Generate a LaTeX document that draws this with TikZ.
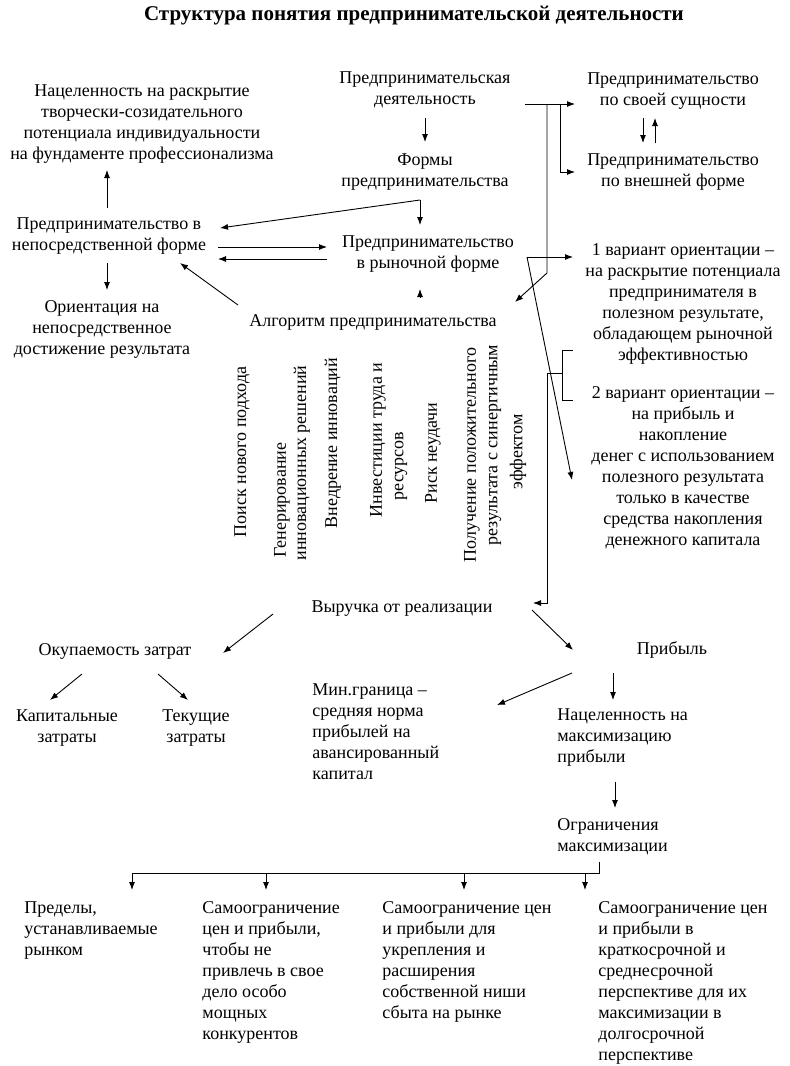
\documentclass[tikz,border=0pt]{standalone}
\usepackage{fontspec}
\setmainfont{Liberation Serif}
\usetikzlibrary{arrows.meta}
\usetikzlibrary{calc}

\begin{document}
\begin{tikzpicture}
	[
	x=1pt, y=-1pt,
	line width=0.9pt,
	> = {Latex[length=8pt,width=6pt]},
	lbl/.style = {inner sep=0pt, align=center, font=\fontsize{18}{21}\selectfont},
	lbll/.style = {lbl, align=left, anchor=west},
	vlbl/.style = {lbl, rotate=90}
	]
	\useasboundingbox[fill=white] (0,0) rectangle (790,1066);

	\node[lbl, font=\fontsize{21}{24}\selectfont\bfseries] (title) at (414,16) {Структура понятия предпринимательской деятельности};

	% upper block
	\node[lbl] (aim) at (142,124) {Нацеленность на раскрытие\\творчески-созидательного\\потенциала индивидуальности\\на фундаменте профессионализма};
	\node[lbl] (direct) at (109,236) {Предпринимательство в\\непосредственной форме};
	\node[lbl] (orient) at (102,329) {Ориентация на\\непосредственное\\достижение результата};
	\node[lbl] (activity) at (425,90) {Предпринимательская\\деятельность};
	\node[lbl] (forms) at (425,172) {Формы\\предпринимательства};
	\node[lbl] (market) at (428,254) {Предпринимательство\\в рыночной форме};
	\node[lbl] (algo) at (373,322) {Алгоритм предпринимательства};
	\node[lbl] (essence) at (673,91) {Предпринимательство\\по своей сущности};
	\node[lbl] (outer) at (673,172) {Предпринимательство\\по внешней форме};
	\node[lbl] (var1) at (683,304) {1 вариант ориентации –\\на раскрытие потенциала\\предпринимателя в\\полезном результате,\\обладающем рыночной\\эффективностью};
	\node[lbl] (var2) at (683,468) {2 вариант ориентации –\\на прибыль и\\накопление\\денег с использованием\\полезного результата\\только в качестве\\средства накопления\\денежного капитала};

	% steps of the algorithm
	\foreach \name/\px/\py/\txt in {
		s1/242/452/Поиск нового подхода,
		s2/282/500/Генерирование,
		s3/302/463/инновационных решений,
		s4/333/443/Внедрение инноваций,
		s5/378/440/Инвестиции труда и,
		s6/401/466/ресурсов,
		s7/433/453/Риск неудачи,
		s8/472/455/Получение положительного,
		s9/495/445/результата с синергичным,
		s10/518/452/эффектом}
		\node[vlbl] (\name) at (\px,\py) {\txt};

	% lower block
	\node[lbl] (revenue) at (402,609) {Выручка от реализации};
	\node[lbl] (payback) at (115,651) {Окупаемость затрат};
	\node[lbl] (capital) at (67,728) {Капитальные\\затраты};
	\node[lbl] (current) at (196,728) {Текущие\\затраты};
	\node[lbll] (minlim) at (312,732) {Мин.граница –\\средняя норма\\прибылей на\\авансированный\\капитал};
	\node[lbl] (profit) at (672,650) {Прибыль};
	\node[lbll] (maxaim) at (557,738) {Нацеленность на\\максимизацию\\прибыли};
	\node[lbll] (limits) at (557,837) {Ограничения\\максимизации};
	\node[lbll, anchor=north west] (lim1) at (24,901) {Пределы,\\устанавливаемые\\рынком};
	\node[lbll, anchor=north west] (lim2) at (202,901) {Самоограничение\\цен и прибыли,\\чтобы не\\привлечь в свое\\дело особо\\мощных\\конкурентов};
	\node[lbll, anchor=north west] (lim3) at (382,901) {Самоограничение цен\\и прибыли для\\укрепления и\\расширения\\собственной ниши\\сбыта на рынке};
	\node[lbll, anchor=north west] (lim4) at (598,901) {Самоограничение цен\\и прибыли в\\краткосрочной и\\среднесрочной\\перспективе для их\\максимизации в\\долгосрочной\\перспективе};

	% connectors, upper block
	\draw[->] ($(activity)+(0,28)$) -- ($(forms)+(0,-30)$);
	\draw[->] ($(forms)+(-5,28)$) -- ($(market)+(-8,-29)$);
	\draw[->] ($(forms)+(-5,28)$) -- ($(direct)+(111,-8)$);
	\draw[->] ($(direct)+(109,11)$) -- ($(market)+(-101,-7)$);
	\draw[->] ($(market)+(-101,5)$) -- ($(direct)+(109,23)$);
	\draw[->] ($(direct)+(-2,-28)$) -- ($(aim)+(-35,46)$);
	\draw[->] ($(direct)+(-2,27)$) -- ($(orient)+(5,-39)$);
	\draw[->] ($(algo)+(-135,-17)$) -- ($(direct)+(71,27)$);
	\draw[->] ($(algo)+(47,-24)$) -- ($(market)+(-8,35)$);
	\draw[->] ($(essence)+(-30,27)$) -- ($(outer)+(-30,-29)$);
	\draw[->] ($(outer)+(-18,-29)$) -- ($(essence)+(-18,27)$);

	% connectors, right side
	\draw[->] ($(activity)+(100,14)$) -- ($(essence)+(-98,13)$);
	\draw[->] ($(activity)+(135,14)$) |- ($(outer)+(-98,0)$);
	\draw[->] ($(activity)+(122,14)$) -- ($(activity)+(122,183)$) -- ($(algo)+(142,-20)$);
	\draw[->] ($(market)+(99,3)$) -- ($(var1)+(-110,-47)$);
	\draw[->] ($(market)+(99,3)$) -- ($(var2)+(-111,12)$);
	\draw ($(var1)+(-110,46)$) -| ($(var2)+(-121,-68)$) -- ($(var2)+(-110,-68)$);
	\draw[->] ($(var2)+(-121,-95)$) -- ($(var2)+(-136,-95)$) |- ($(revenue)+(131,-6)$);

	% connectors, lower block
	\draw[->] ($(revenue)+(-129,5)$) -- ($(payback)+(108,2)$);
	\draw[->] ($(revenue)+(130,1)$) -- ($(profit)+(-99,0)$);
	\draw[->] ($(payback)+(-33,23)$) -- ($(capital)+(-17,-28)$);
	\draw[->] ($(payback)+(43,23)$) -- ($(current)+(-8,-28)$);
	\draw[->] ($(profit)+(-100,23)$) -- ($(minlim.west)+(185,-27)$);
	\draw[->] ($(profit)+(-59,23)$) -- ($(maxaim.west)+(56,-38)$);
	\draw[->] ($(maxaim.west)+(58,44)$) -- ($(limits.west)+(58,-29)$);
	\draw ($(limits.west)+(42,25)$) |- ($(lim1.north west)+(108,-28)$);
	\foreach \name/\dx in {lim1/108, lim2/64, lim3/82, lim4/-13}
		\draw[->] ($(\name.north west)+(\dx,-28)$) -- ($(\name.north west)+(\dx,-11)$);
\end{tikzpicture}
\end{document}
